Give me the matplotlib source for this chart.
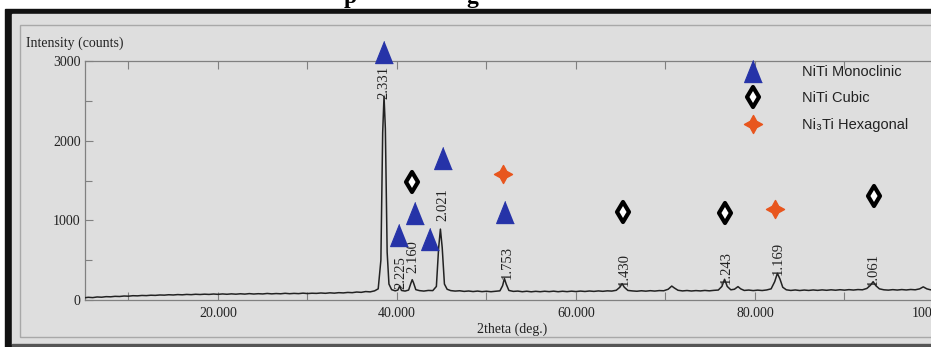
import matplotlib
matplotlib.use("Agg")
import matplotlib.pyplot as plt
from matplotlib.patches import Rectangle
from matplotlib.markers import MarkerStyle
from matplotlib.ticker import FixedLocator, FormatStrFormatter

plt.rcParams['font.family'] = ['Liberation Serif', 'DejaVu Serif']

# ---------------- data ----------------
two_theta = [5.1, 5.5, 6.0, 6.5, 7.0, 7.5, 8.0, 8.5, 9.0, 9.5, 10.0, 10.5, 11.0, 11.5, 12.0, 12.5,
             13.0, 13.5, 14.0, 14.5, 15.0, 15.5, 16.0, 16.5, 17.0, 17.5, 18.0, 18.5, 19.0, 19.5,
             20.0, 20.5, 21.0, 21.5, 22.0, 22.5, 23.0, 23.5, 24.0, 24.5, 25.0, 25.5, 26.0, 26.5,
             27.0, 27.5, 28.0, 28.5, 29.0, 29.5, 30.0, 30.5, 31.0, 31.5, 32.0, 32.5, 33.0, 33.5,
             34.0, 34.5, 35.0, 35.5, 36.0, 36.5, 37.0, 37.5, 37.9, 38.2, 38.4, 38.55, 38.7, 38.9,
             39.1, 39.4, 39.8, 40.1, 40.3, 40.5, 40.9, 41.3, 41.55, 41.7, 41.85, 42.1, 42.5, 43.0,
             43.5, 44.0, 44.4, 44.65, 44.85, 45.05, 45.3, 45.6, 46.0, 46.5, 47.0, 47.5, 48.0, 48.5,
             49.0, 49.5, 50.0, 50.5, 51.0, 51.5, 51.8, 52.0, 52.2, 52.5, 53.0, 53.5, 54.0, 54.5,
             55.0, 55.5, 56.0, 56.5, 57.0, 57.5, 58.0, 58.5, 59.0, 59.5, 60.0, 60.5, 61.0, 61.5,
             62.0, 62.5, 63.0, 63.5, 64.0, 64.5, 64.9, 65.15, 65.4, 65.8, 66.3, 66.8, 67.3, 67.8,
             68.3, 68.8, 69.3, 69.8, 70.3, 70.7, 71.0, 71.4, 71.9, 72.4, 72.9, 73.4, 73.9, 74.4,
             74.9, 75.4, 75.9, 76.3, 76.6, 76.9, 77.3, 77.7, 78.1, 78.4, 78.8, 79.3, 79.8, 80.3,
             80.8, 81.3, 81.8, 82.2, 82.5, 82.8, 83.1, 83.5, 84.0, 84.5, 85.0, 85.5, 86.0, 86.5,
             87.0, 87.5, 88.0, 88.5, 89.0, 89.5, 90.0, 90.5, 91.0, 91.5, 92.0, 92.5, 92.9, 93.2,
             93.5, 93.9, 94.4, 94.9, 95.4, 95.9, 96.4, 96.9, 97.4, 97.9, 98.4, 98.8, 99.2, 99.6,
             100.1, 100.6, 101.1, 101.6, 102.0]
counts = [28, 34, 30, 38, 35, 42, 40, 46, 44, 50, 48, 54, 52, 57, 55, 60,
          58, 63, 61, 66, 63, 68, 65, 70, 67, 72, 69, 73, 70, 75,
          71, 76, 72, 77, 73, 78, 74, 80, 75, 79, 76, 82, 77, 81,
          78, 84, 79, 83, 80, 86, 81, 85, 83, 88, 84, 90, 86, 92,
          89, 95, 92, 100, 96, 106, 102, 115, 140, 500, 2100, 2560, 2150, 600,
          200, 130, 115, 125, 175, 120, 112, 125, 210, 255, 215, 130, 118, 112,
          120, 118, 170, 650, 890, 660, 200, 135, 118, 112, 116, 108, 113, 106,
          112, 105, 110, 104, 110, 115, 180, 270, 200, 120, 108, 112, 104, 110,
          103, 109, 104, 110, 105, 111, 104, 110, 105, 111, 106, 112, 107, 113,
          108, 114, 109, 115, 112, 122, 160, 205, 160, 120, 114, 110, 116, 111,
          117, 112, 118, 116, 135, 175, 150, 122, 114, 119, 113, 118, 114, 120,
          115, 121, 125, 170, 260, 170, 128, 135, 168, 140, 120, 125, 118, 124,
          119, 126, 140, 230, 335, 260, 160, 128, 120, 126, 119, 125, 120, 126,
          121, 127, 122, 128, 123, 129, 124, 130, 125, 131, 128, 145, 185, 230,
          180, 140, 128, 124, 130, 125, 131, 126, 132, 128, 140, 165, 140, 128,
          133, 128, 134, 129, 130]

mono_x = [38.55, 40.22, 42.01, 43.69, 45.11, 52.07]
mono_y = [3113, 816, 1092, 766, 1782, 1105]
cubic_x = [41.64, 65.21, 76.65, 93.33]
cubic_y = [1485, 1108, 1096, 1305]
hex_x = [51.81, 82.23]
hex_y = [1582, 1142]

peak_labels = ["2.331", "2.225", "2.160", "2.021", "1.753", "1.430", "1.243", "1.169", "1.061"]
label_x = [38.55, 40.45, 41.79, 45.11, 52.29, 65.36, 76.76, 82.57, 93.18]
label_y = [2736, 339, 540, 1192, 477, 377, 414, 527, 377]

x_major = [20, 40, 60, 80, 100]
x_minor = [10, 30, 50, 70, 90]
y_major = [0, 1000, 2000, 3000]
y_minor = [500, 1500, 2500]

series_names = ["NiTi Monoclinic", "NiTi Cubic", "Ni\u2083Ti Hexagonal"]

# ---------------- layout helpers ----------------
W, H = 931, 347
def fx(x): return x / W
def fy(y): return 1 - y / H

fig = plt.figure(figsize=(W / 100, H / 100), dpi=100, facecolor='white')

# background frame pieces
fig.add_artist(Rectangle((fx(5), fy(347)), fx(926), fy(9) - fy(347),
                         transform=fig.transFigure, color='#111111', zorder=-5))
fig.add_artist(Rectangle((fx(12), fy(344)), fx(931 - 12), fy(14) - fy(344),
                         transform=fig.transFigure, color='#dedede', zorder=-4))
fig.add_artist(Rectangle((fx(12), fy(347)), fx(931 - 12), fy(344) - fy(347),
                         transform=fig.transFigure, color='#555555', zorder=-4))
fig.add_artist(Rectangle((fx(20), fy(337)), fx(960 - 20), fy(25) - fy(337),
                         transform=fig.transFigure, fill=False, edgecolor='#a8a8a8', lw=1.0, zorder=-3))

# cut-off title letters at top (as in the reference)
for ch, xp in [("p", 350), ("g", 472)]:
    fig.text(fx(xp), fy(3), ch, fontsize=17, fontweight='bold', ha='center', va='baseline',
             family=['Liberation Serif'], color='black')

# axes
xmin, xmax = 5.14, 102.0
ppd = 8.95
ax = fig.add_axes([fx(85), fy(300), (xmax - xmin) * ppd / W, fy(61) - fy(300)])
ax.set_facecolor('none')
ax.set_xlim(xmin, xmax)
ax.set_ylim(0, 3000)

ax.plot(two_theta, counts, color='#222222', lw=1.1, zorder=3)

tri = MarkerStyle([(0, 1), (-0.8, -1), (0.8, -1)], joinstyle='round')
dia = MarkerStyle('d', joinstyle='round')
star = MarkerStyle((4, 1, 0), joinstyle='round')

h1, = ax.plot(mono_x, mono_y, linestyle='none', marker=tri, ms=16, color='#2633a8',
              mec='#2633a8', mew=0.8, clip_on=False, zorder=5)
h2, = ax.plot(cubic_x, cubic_y, linestyle='none', marker=dia, ms=10, mfc='white',
              mec='black', mew=3, clip_on=False, zorder=5)
h3, = ax.plot(hex_x, hex_y, linestyle='none', marker=star, ms=13, color='#e8561e',
              mec='#e8561e', mew=1, clip_on=False, zorder=5)

for lab, lx, ly in zip(peak_labels, label_x, label_y):
    ax.text(lx, ly, lab, rotation=90, ha='center', va='center', fontsize=10.5,
            color='#222222', zorder=4)

for side in ['left', 'bottom', 'top']:
    ax.spines[side].set_color('#808080')
    ax.spines[side].set_linewidth(0.9)
ax.spines['right'].set_visible(False)

ax.xaxis.set_major_locator(FixedLocator(x_major))
ax.xaxis.set_minor_locator(FixedLocator(x_minor))
ax.xaxis.set_major_formatter(FormatStrFormatter('%.3f'))
ax.yaxis.set_major_locator(FixedLocator(y_major))
ax.yaxis.set_minor_locator(FixedLocator(y_minor))
ax.tick_params(axis='both', which='both', direction='in', color='#808080', width=0.8,
               labelsize=10, labelcolor='#222222')
ax.tick_params(axis='x', which='both', top=True, length=6, pad=5)
ax.tick_params(axis='y', which='major', length=6, pad=3)
ax.tick_params(axis='y', which='minor', length=5)

fig.text(fx(26), fy(43), "Intensity (counts)", fontsize=10, ha='left', va='center', color='#222222')
fig.text(fx(477), fy(329), "2theta (deg.)", fontsize=10, ha='left', va='center', color='#222222')

leg = ax.legend([h1, h2, h3], series_names, loc='upper left',
                bbox_to_anchor=(fx(738), fy(65)), bbox_transform=fig.transFigure,
                frameon=False, numpoints=1, borderpad=0, borderaxespad=0,
                handlelength=2.0, handletextpad=2.4, labelspacing=0.85,
                prop={'family': ['Liberation Sans', 'DejaVu Sans'], 'size': 10.5})
for t in leg.get_texts():
    t.set_color('#222222')

fig.savefig('out.png', dpi=100, facecolor='white')
